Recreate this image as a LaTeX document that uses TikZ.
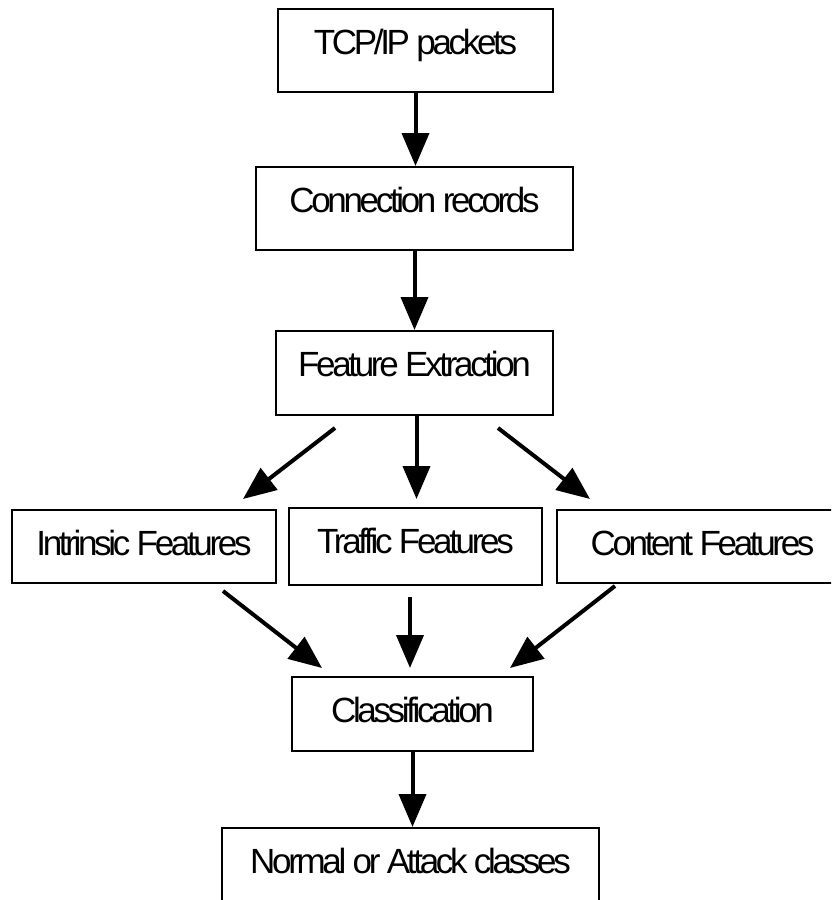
\documentclass[tikz,border=0pt]{standalone}
\usepackage{fontspec}
\setmainfont{Liberation Sans}[LetterSpace=-9.5]
\usetikzlibrary{arrows.meta}
\tikzset{
  box/.style={draw, line width=2pt, inner xsep=0pt, inner ysep=20pt,
    text height=25pt, font=\fontsize{35}{42}\selectfont},
  arr/.style={line width=4pt, -{Triangle[length=33pt,width=27pt]}},
}
\begin{document}
\begin{tikzpicture}[x=1pt,y=-1pt]
\useasboundingbox (0,0) rectangle (831,900);
\clip (0,0) rectangle (831,900);
\node[box, minimum width=275pt, text depth=18pt] (tcp)  at (415.5,50.5) {TCP/IP packets};
\node[box, minimum width=317pt, text depth=18pt] (conn) at (414.5,208.5) {Connection records};
\node[box, minimum width=277pt, text depth=19pt] (fe)   at (414.5,373) {Feature Extraction};
\node[box, minimum width=264pt, text depth=8pt]  (intr) at (144,546.5) {Intrinsic Features};
\node[box, minimum width=253pt, text depth=12pt] (traf) at (415.5,546.5) {Traffic Features};
\node[box, minimum width=291pt, text depth=8pt]  (cont) at (702.5,546.5) {Content Features};
\node[box, minimum width=241pt, text depth=9pt]  (cls)  at (412.5,714) {Classification};
\node[box, minimum width=377pt, text depth=18pt] (norm) at (410.5,869.5) {Normal or Attack classes};

\draw[arr] (tcp.south) -- (tcp.south |- conn.north);
\draw[arr] (conn.south) -- (conn.south |- fe.north);
\draw[arr] ([shift={(-79.5,12)}]fe.south) -- ([shift={(99,-10)}]intr.north);
\draw[arr] ([shift={(2,0)}]fe.south) -- ([shift={(1,-8)}]traf.north);
\draw[arr] ([shift={(83.5,12)}]fe.south) -- ([shift={(-112.5,-10)}]cont.north);
\draw[arr] ([shift={(79,7)}]intr.south) -- ([shift={(-90.5,-8)}]cls.north);
\draw[arr] ([shift={(-5.5,11)}]traf.south) -- ([shift={(-2.5,-8)}]cls.north);
\draw[arr] ([shift={(-87.5,2)}]cont.south) -- ([shift={(97.5,-8)}]cls.north);
\draw[arr] (cls.south) -- (cls.south |- norm.north);
\end{tikzpicture}
\end{document}
